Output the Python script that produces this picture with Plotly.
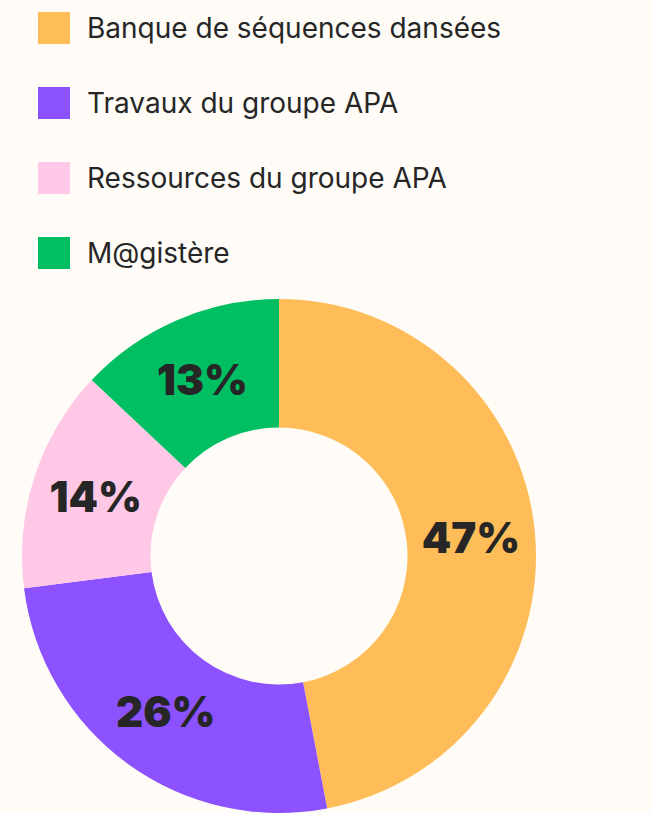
import plotly.graph_objects as go

labels = ["Banque de séquences dansées", "Travaux du groupe APA", "Ressources du groupe APA", "M@gistère"]
values = [47, 26, 14, 13]
colors = ["#FFBD59", "#8C52FF", "#FFC8E6", "#00BF63"]

W, H = 653, 813
BG = "#FFFCF7"
TXT = "#262626"

fig = go.Figure()
fig.add_trace(go.Pie(
    labels=labels, values=values,
    marker=dict(colors=colors, line=dict(width=0)),
    hole=0.5, sort=False, direction="clockwise", rotation=0,
    textinfo="percent", texttemplate="%{percent:.0%}",
    textposition="inside", insidetextorientation="horizontal",
    textfont=dict(family="Inter, Poppins, sans-serif", size=42, color=TXT, weight=900),
    domain=dict(x=[21 / W, 537 / W], y=[0, 1 - 299 / H]),
    showlegend=False, hoverinfo="label+percent",
))

shapes, annotations = [], []
top0, step, sq = 12, 75, 32
for i, (lab, col) in enumerate(zip(labels, colors)):
    t = top0 + i * step
    shapes.append(dict(type="rect", xref="paper", yref="paper",
                       x0=38 / W, x1=70 / W, y0=1 - (t + sq) / H, y1=1 - t / H,
                       fillcolor=col, line=dict(width=0)))
    annotations.append(dict(xref="paper", yref="paper", x=85 / W, y=1 - (t + sq / 2) / H,
                            xanchor="left", yanchor="middle", showarrow=False, text=lab,
                            font=dict(family="Inter, Poppins, sans-serif", size=28, color=TXT)))

fig.update_layout(
    width=W, height=H, margin=dict(l=0, r=0, t=0, b=0),
    paper_bgcolor=BG, plot_bgcolor=BG,
    shapes=shapes, annotations=annotations,
    uniformtext=dict(minsize=10, mode="show"),
)
fig.write_html("out.html", config={"displayModeBar": False},
               post_script="document.body.style.margin='0';document.body.style.background='%s';" % BG)
